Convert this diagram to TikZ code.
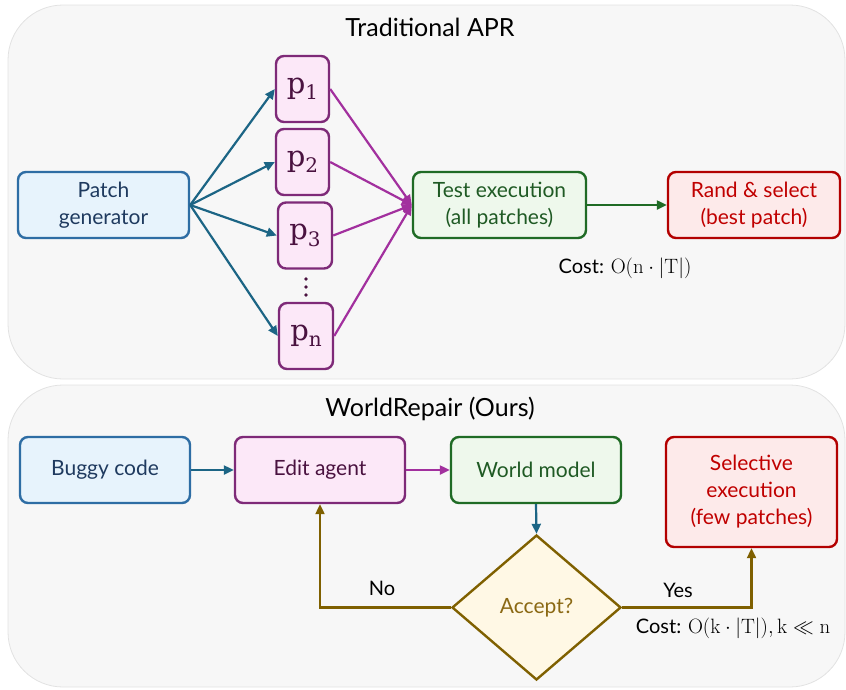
\documentclass[tikz,border=0pt]{standalone}
\usepackage[no-math]{fontspec}
\setmainfont{Lato}
\newfontfamily\pfont{DejaVu Serif}
\usetikzlibrary{shapes.geometric,arrows.meta}

\definecolor{panelfill}{HTML}{F7F7F7}
\definecolor{panelline}{HTML}{E2E2E2}
\definecolor{bluefill}{HTML}{E7F3FC}
\definecolor{bluedraw}{HTML}{2E6DA4}
\definecolor{bluetext}{HTML}{1F3A5F}
\definecolor{tealarrow}{HTML}{1C6585}
\definecolor{pinkfill}{HTML}{FCE8F8}
\definecolor{purpdraw}{HTML}{7E2A78}
\definecolor{purptext}{HTML}{4A1240}
\definecolor{purpline}{HTML}{A2309E}
\definecolor{greenfill}{HTML}{EEF8EC}
\definecolor{greendraw}{HTML}{1F6B25}
\definecolor{greentext}{HTML}{1F5A24}
\definecolor{redfill}{HTML}{FDEAEA}
\definecolor{reddraw}{HTML}{B30000}
\definecolor{redtext}{HTML}{C00000}
\definecolor{olive}{HTML}{7F6000}
\definecolor{olivetext}{HTML}{8B6914}
\definecolor{yellowfill}{HTML}{FFF8E5}

% patch label: serif p with a lowered index
\newcommand{\patchlbl}[1]{{\pfont p\raisebox{-0.22em}{\fontsize{20}{20}\selectfont #1}}}

\tikzset{
  panel/.style={fill=panelfill, draw=panelline, line width=0.8pt, rounded corners=55pt},
  title/.style={font=\fontsize{25}{28}\selectfont, text=black},
  box/.style={rectangle, rounded corners=8pt, line width=2.4pt, align=center,
    font=\fontsize{21}{27}\selectfont, inner sep=0pt},
  bluebox/.style={box, fill=bluefill, draw=bluedraw, text=bluetext},
  pinkbox/.style={box, fill=pinkfill, draw=purpdraw, text=purptext},
  greenbox/.style={box, fill=greenfill, draw=greendraw, text=greentext},
  redbox/.style={box, fill=redfill, draw=reddraw, text=redtext},
  pbox/.style={pinkbox, font=\fontsize{29}{30}\selectfont, minimum width=53pt, minimum height=66pt},
  arr/.style={line width=2.2pt, -{Triangle[length=10pt,width=9pt]}},
  costlabel/.style={font=\fontsize{20}{24}\selectfont, text=black},
  branch/.style={font=\fontsize{20}{24}\selectfont, text=black},
}

\begin{document}
\begin{tikzpicture}[x=1pt, y=-1pt]
  \useasboundingbox (0,0) rectangle (846,689);

  % background panels
  \draw[panel] (8,5) rectangle (845,379);
  \draw[panel] (8,385) rectangle (845,687);
  \node[title] (t1) at (430,27) {Traditional APR};
  \node[title] (t2) at (430,409) {WorldRepair (Ours)};

  % traditional pipeline
  \node[bluebox, minimum width=171pt, minimum height=66pt] (gen) at (103.5,205) {Patch\\generator};
  \node[pbox] (p1) at (302.5,89) {\patchlbl{1}};
  \node[pbox] (p2) at (302.5,162) {\patchlbl{2}};
  \node[pbox, minimum width=54pt] (p3) at (305,235.5) {\patchlbl{3}};
  \node[pbox, minimum width=54pt] (pn) at (306,336) {\patchlbl{n}};
  \foreach \dy in {279,287,295}
    \fill[purptext] (306,\dy) circle (1.8pt);
  \node[greenbox, minimum width=173pt, minimum height=66pt] (test) at (499.5,205) {Test execution\\(all patches)};
  \node[redbox, minimum width=172pt, minimum height=66pt] (rand) at (754,205) {Rand \& select\\(best patch)};
  \node[costlabel] (cost1) at (625,268) {Cost: $\mathrm{O}(\mathrm{n}\cdot|\mathrm{T}|)$};

  \foreach \p in {p1,p2,p3,pn} {
    \draw[arr, tealarrow] (gen.east) -- (\p.west);
    \draw[arr, purpline] (\p.east) -- (test.west);
  }
  \draw[arr, greendraw] (test.east) -- (rand.west);

  % WorldRepair pipeline
  \node[bluebox, minimum width=170pt, minimum height=66pt] (buggy) at (105,470) {Buggy code};
  \node[pinkbox, minimum width=170pt, minimum height=66pt] (edit) at (320,470) {Edit agent};
  \node[greenbox, minimum width=170pt, minimum height=66pt] (world) at (536,470) {World model};
  \node[redbox, minimum width=171pt, minimum height=110pt] (sel) at (751.5,492) {Selective\\execution\\(few patches)};
  \node[diamond, aspect=1.166, minimum width=169pt, minimum height=145pt, inner sep=0pt,
        fill=yellowfill, draw=olive, line width=2.4pt, text=olivetext,
        font=\fontsize{21}{24}\selectfont] (acc) at (536.5,607.5) {Accept?};

  \draw[arr, tealarrow] (buggy.east) -- (edit.west);
  \draw[arr, purpline] (edit.east) -- (world.west);
  \draw[arr, tealarrow] (world.south) -- (acc.north);
  \draw[arr, olive] (acc.west) -| (edit.south);
  \draw[arr, olive] (acc.east) -| (sel.south);
  \node[branch] (no) at (382,588) {No};
  \node[branch] (yes) at (678,590) {Yes};
  \node[costlabel] (cost2) at (733,628) {Cost: $\mathrm{O}(\mathrm{k}\cdot|\mathrm{T}|),\mathrm{k}\ll\mathrm{n}$};
\end{tikzpicture}
\end{document}
